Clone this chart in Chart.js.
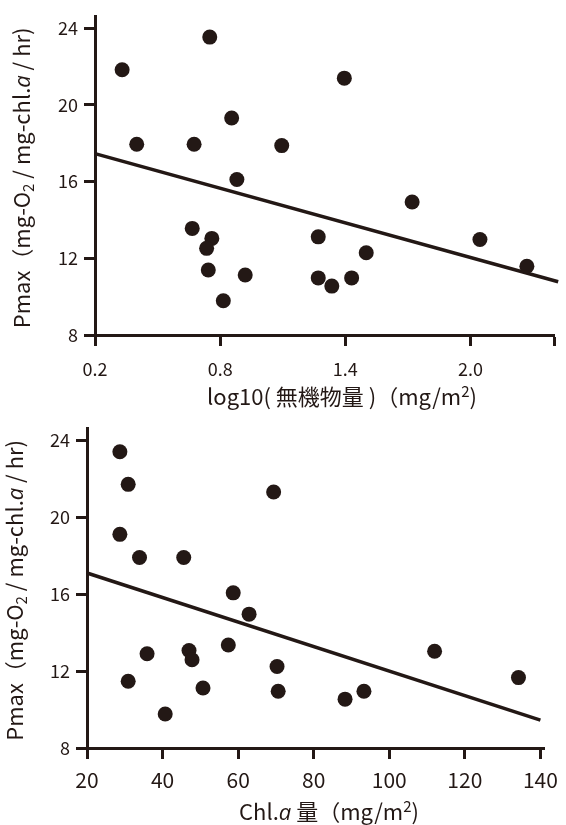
<!DOCTYPE html>
<html>
<head>
<meta charset="utf-8">
<script src="https://cdn.jsdelivr.net/npm/chart.js@4.4.1/dist/chart.umd.min.js"></script>
<style>
  body { margin: 0; background: #fff; }
  canvas { display: block; }
</style>
</head>
<body>
<canvas id="inorganicChart" width="566" height="412"></canvas>
<canvas id="chlChart" width="566" height="413"></canvas>
<script>
const INK = '#231815';
const FONT = '"Noto Sans CJK JP", "Noto Sans", sans-serif';
const ITALIC_FONT = '"Open Sans", "Noto Sans", sans-serif';

// log10(inorganic matter) vs Pmax
const inorgX = [0.33, 0.75, 0.855, 0.40, 0.675, 1.095, 0.88, 1.395, 1.72, 1.27, 1.50,
                1.27, 1.335, 1.43, 2.045, 2.27, 0.666, 0.76, 0.735, 0.743, 0.92, 0.815];
const inorgY = [21.84, 23.54, 19.32, 17.95, 17.95, 17.88, 16.11, 21.40, 14.94, 13.12, 12.29,
                10.98, 10.55, 10.98, 12.98, 11.59, 13.56, 13.04, 12.52, 11.39, 11.13, 9.79];
const inorgFitX = [0.2, 2.42];
const inorgFitY = [17.46, 10.78];
const inorgTicks = [0.2, 0.8, 1.4, 2.0, 2.4];

// Chl.a amount vs Pmax
const chlX = [28.7, 30.9, 28.7, 33.9, 45.6, 69.4, 58.7, 62.9, 35.9, 30.9, 47.0,
              47.8, 57.4, 50.7, 40.7, 70.3, 70.6, 88.3, 93.3, 112.0, 134.2];
const chlY = [23.41, 21.71, 19.11, 17.91, 17.91, 21.31, 16.07, 14.96, 12.90, 11.47, 13.07,
              12.59, 13.36, 11.12, 9.77, 12.24, 10.95, 10.54, 10.95, 13.03, 11.66];
const chlFitX = [20, 140];
const chlFitY = [17.1, 9.45];
const chlTicks = [20, 40, 60, 80, 100, 120, 140];

const pmaxTicks = [8, 12, 16, 20, 24];

// axis titles with subscript / superscript / italic pieces
const pmaxTitle = [
  { t: 'Pmax（mg-O' }, { t: '2', sub: true }, { t: ' / mg-chl.' },
  { t: 'a', italic: true }, { t: ' / hr)' }
];
const inorgTitle = [{ t: 'log10( 無機物量 )（mg/m' }, { t: '2', sup: true }, { t: ')' }];
const chlTitle = [{ t: 'Chl.' }, { t: 'a', italic: true }, { t: ' 量（mg/m' }, { t: '2', sup: true }, { t: ')' }];

function pieceFont(p, size) {
  const s = (p.sub || p.sup) ? Math.round(size * 0.68) : size;
  if (p.italic) return 'italic ' + s + 'px ' + ITALIC_FONT;
  return s + 'px ' + FONT;
}

function drawRich(ctx, pieces, size, cx, cy, rotate) {
  ctx.save();
  ctx.translate(cx, cy);
  if (rotate) ctx.rotate(-Math.PI / 2);
  let total = 0;
  pieces.forEach(p => { ctx.font = pieceFont(p, size); total += ctx.measureText(p.t).width; });
  let x = -total / 2;
  ctx.fillStyle = INK;
  ctx.textBaseline = 'alphabetic';
  pieces.forEach(p => {
    ctx.font = pieceFont(p, size);
    let dy = 0;
    if (p.sub) dy = size * 0.18;
    if (p.sup) dy = -size * 0.36;
    ctx.fillText(p.t, x, dy);
    x += ctx.measureText(p.t).width;
  });
  ctx.restore();
}

function toPoints(xs, ys) {
  return xs.map((x, i) => ({ x: x, y: ys[i] }));
}

function makeChart(id, cfg) {
  const titles = {
    id: 'axisTitles',
    afterDraw(chart) {
      const a = chart.chartArea;
      const ctx = chart.ctx;
      drawRich(ctx, pmaxTitle, 22, cfg.yTitleX, (a.top + a.bottom) / 2 + 2, true);
      drawRich(ctx, cfg.xTitle, 22, cfg.xTitleX, a.bottom + cfg.xTitleDy, false);
    }
  };
  return new Chart(document.getElementById(id), {
    type: 'scatter',
    data: {
      datasets: [{
        data: toPoints(cfg.xs, cfg.ys),
        backgroundColor: INK,
        borderWidth: 0,
        pointRadius: 7.5,
        pointHoverRadius: 7.5
      }, {
        type: 'line',
        data: toPoints(cfg.fitX, cfg.fitY),
        borderColor: INK,
        borderWidth: 3.5,
        pointRadius: 0,
        clip: false
      }]
    },
    options: {
      responsive: false,
      animation: false,
      layout: { padding: { top: cfg.padTop, right: cfg.padRight, left: 0, bottom: 0 } },
      plugins: { legend: { display: false }, tooltip: { enabled: false } },
      scales: {
        x: {
          type: 'linear',
          min: cfg.xMin,
          max: cfg.xMax,
          afterBuildTicks: s => { s.ticks = cfg.xTicks.map(v => ({ value: v })); },
          afterFit: s => { s.height = cfg.xHeight; },
          ticks: {
            color: INK,
            padding: cfg.xPad,
            maxRotation: 0,
            autoSkip: false,
            font: { family: FONT, size: cfg.xFont },
            callback: v => cfg.xLabel(v)
          },
          grid: { drawOnChartArea: false, drawTicks: true, tickLength: 11, tickWidth: 3, tickColor: INK },
          border: { display: true, width: 3, color: INK }
        },
        y: {
          type: 'linear',
          min: 8,
          max: 24.6,
          afterBuildTicks: s => { s.ticks = pmaxTicks.map(v => ({ value: v })); },
          afterFit: s => { s.width = cfg.yWidth; },
          ticks: {
            color: INK,
            padding: 6,
            font: { family: FONT, size: 18 },
            callback: v => String(v)
          },
          grid: { drawOnChartArea: false, drawTicks: true, tickLength: 11, tickWidth: 3, tickColor: INK },
          border: { display: true, width: 3, color: INK }
        }
      }
    },
    plugins: [titles]
  });
}

makeChart('inorganicChart', {
  xs: inorgX, ys: inorgY, fitX: inorgFitX, fitY: inorgFitY,
  xMin: 0.2, xMax: 2.4, xTicks: inorgTicks,
  xLabel: v => (v === 2.4 ? '' : v.toFixed(1)),
  xFont: 18, xPad: 12,
  padTop: 15, padRight: 12, yWidth: 95, xHeight: 77,
  xTitle: inorgTitle, xTitleX: 342, xTitleDy: 70, yTitleX: 30
});

makeChart('chlChart', {
  xs: chlX, ys: chlY, fitX: chlFitX, fitY: chlFitY,
  xMin: 20, xMax: 141, xTicks: chlTicks,
  xLabel: v => String(v),
  xFont: 21, xPad: 8,
  padTop: 14, padRight: 15.5, yWidth: 87, xHeight: 77,
  xTitle: chlTitle, xTitleX: 329, xTitleDy: 72, yTitleX: 23
});
</script>
</body>
</html>
